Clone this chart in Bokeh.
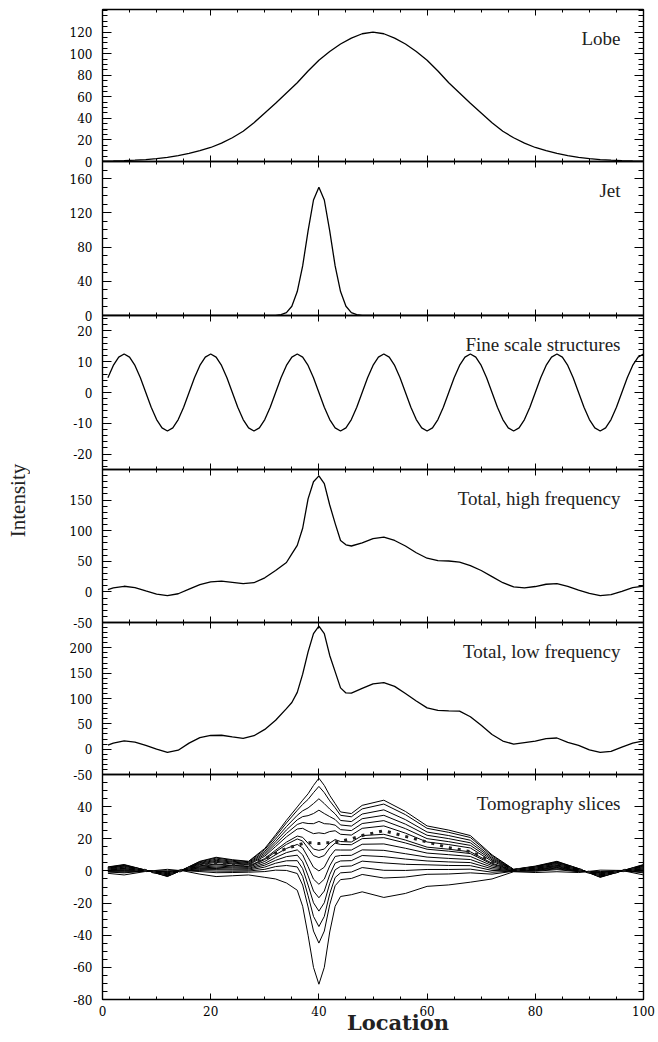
import numpy as np
from bokeh.plotting import figure
from bokeh.layouts import column, row
from bokeh.models import LinearAxis, FixedTicker, Range1d, Label
from bokeh.embed import file_html
from bokeh.resources import INLINE

# ---------------- data ----------------
X_TICKS = [0, 20, 40, 60, 80, 100]
X_MINOR = list(range(0, 101, 5))

X_LOBE = list(range(0, 101, 2))
LOBE = [0.3, 0.5, 0.8, 1.2, 1.8, 2.6, 3.8, 5.4, 7.5, 10.0, 13.0, 17.0, 22.0, 28.0, 36.0,
        45.0, 54.0, 63.5, 73.0, 84.0, 94.0, 102.0, 109.0, 114.5, 118.5, 120.0, 118.5, 114.5,
        109.0, 102.0, 94.0, 84.0, 73.0, 63.5, 54.0, 45.0, 36.0, 28.0, 22.0, 17.0, 13.0, 10.0,
        7.5, 5.4, 3.8, 2.6, 1.8, 1.2, 0.8, 0.5, 0.3]

X_JET = [0, 30, 31, 32, 33, 34, 35, 36, 37, 38, 39, 40, 41, 42, 43, 44, 45, 46, 47, 48, 49, 50, 100]
JET = [0, 0, 0, 0.2, 1.0, 3.4, 10.8, 28, 58, 99, 135, 150, 135, 99, 58, 28, 10.8, 3.4, 1.0, 0.2, 0, 0, 0]

X_FINE = list(range(1, 101))
FINE = [4.8, 8.8, 11.5,
        12.5, 11.5, 8.8, 4.8, 0, -4.8, -8.8, -11.5, -12.5, -11.5, -8.8, -4.8, 0, 4.8, 8.8, 11.5,
        12.5, 11.5, 8.8, 4.8, 0, -4.8, -8.8, -11.5, -12.5, -11.5, -8.8, -4.8, 0, 4.8, 8.8, 11.5,
        12.5, 11.5, 8.8, 4.8, 0, -4.8, -8.8, -11.5, -12.5, -11.5, -8.8, -4.8, 0, 4.8, 8.8, 11.5,
        12.5, 11.5, 8.8, 4.8, 0, -4.8, -8.8, -11.5, -12.5, -11.5, -8.8, -4.8, 0, 4.8, 8.8, 11.5,
        12.5, 11.5, 8.8, 4.8, 0, -4.8, -8.8, -11.5, -12.5, -11.5, -8.8, -4.8, 0, 4.8, 8.8, 11.5,
        12.5, 11.5, 8.8, 4.8, 0, -4.8, -8.8, -11.5, -12.5, -11.5, -8.8, -4.8, 0, 4.8, 8.8, 11.5,
        12.5]

X_TOT = [1, 2, 4, 6, 8, 10, 12, 14, 16, 18, 20, 22, 24, 26, 28, 30, 32, 34, 35, 36, 37, 38, 39,
         40, 41, 42, 43, 44, 45, 46, 48, 50, 52, 54, 56, 58, 60, 62, 64, 66, 68, 70, 72, 74, 76,
         78, 80, 82, 84, 86, 88, 90, 92, 94, 96, 98, 100]
HIGH = [3.8, 6.5, 9.2, 7.0, 1.5, -3.5, -6.0, -3.0, 4.5, 12.0, 16.5, 17.5, 15.5, 13.5, 15.0, 23.0,
        35.0, 48.0, 62.0, 76.0, 104.0, 152.0, 180.0, 189.5, 177.0, 142.0, 112.0, 84.0, 77.0, 75.0,
        80.0, 87.0, 89.5, 84.0, 75.0, 64.0, 55.0, 51.0, 50.5, 48.5, 43.0, 35.0, 25.0, 15.0, 8.2,
        6.6, 8.8, 12.5, 13.5, 9.0, 3.0, -2.5, -6.0, -4.5, 1.0, 7.0, 9.5]
LOW = [7.8, 12.0, 16.2, 14.0, 7.5, 0.0, -6.5, -2.0, 12.0, 22.8, 27.0, 27.5, 24.2, 21.5, 26.5, 39.0,
       57.0, 80.0, 92.0, 112.0, 148.0, 192.0, 228.0, 243.0, 228.0, 185.0, 153.0, 121.0, 111.0,
       110.5, 120.0, 129.0, 131.5, 124.0, 110.0, 95.0, 81.5, 76.5, 75.5, 75.0, 64.0, 47.0, 29.0,
       16.0, 10.0, 13.0, 16.0, 21.0, 22.0, 13.5, 7.5, -1.5, -6.5, -4.5, 4.0, 12.0, 16.5]

X_TOMO = [1, 4, 8, 12, 15, 18, 21, 24, 27, 30, 32, 34, 36, 37, 38, 39, 40, 41, 42, 43, 44, 46,
          48, 52, 56, 60, 64, 68, 72, 76, 80, 84, 88, 92, 96, 100]
SLICE_01 = [2.5, 4.0, 0.5, -3.5, 1.0, 6.0, 8.5, 7.0, 6.0, 14.0, 22.5, 31.5, 39.8, 44.0, 48.0, 53.2, 57.7, 53.2, 47.0, 41.9, 36.7, 35.7, 40.8, 44.0, 37.0, 28.0, 25.4, 22.0, 10.0, 1.0, 3.0, 6.0, 1.5, -4.0, 0.0, 4.0]
SLICE_02 = [2.3, 3.7, 0.5, -3.3, 1.0, 5.7, 8.0, 6.6, 5.7, 13.3, 21.4, 29.9, 37.7, 41.4, 44.5, 48.7, 52.6, 48.7, 43.6, 39.3, 34.6, 33.7, 38.6, 41.6, 35.0, 26.5, 24.0, 20.8, 9.4, 0.9, 2.8, 5.7, 1.4, -3.8, 0.0, 3.7]
SLICE_03 = [2.1, 3.4, 0.4, -3.1, 0.9, 5.2, 7.3, 6.0, 5.2, 12.2, 19.8, 27.6, 34.6, 37.4, 39.2, 41.9, 44.9, 41.9, 38.5, 35.5, 31.4, 30.7, 35.4, 38.0, 31.9, 24.2, 22.0, 19.1, 8.5, 0.9, 2.6, 5.4, 1.3, -3.6, 0.0, 3.4]
SLICE_04 = [1.9, 3.0, 0.4, -2.8, 0.8, 4.8, 6.6, 5.5, 4.7, 11.2, 18.2, 25.5, 31.8, 33.8, 34.4, 35.7, 37.8, 35.7, 33.8, 32.0, 28.6, 27.9, 32.5, 34.6, 29.1, 22.2, 20.1, 17.5, 7.7, 0.8, 2.4, 5.0, 1.1, -3.3, 0.0, 3.0]
SLICE_05 = [1.7, 2.6, 0.3, -2.6, 0.8, 4.3, 6.0, 4.9, 4.2, 10.2, 16.7, 23.3, 28.9, 30.1, 29.5, 29.4, 30.8, 29.4, 29.2, 28.5, 25.7, 25.1, 29.5, 31.3, 26.3, 20.1, 18.2, 15.9, 6.9, 0.7, 2.2, 4.6, 1.0, -3.1, 0.1, 2.6]
SLICE_06 = [1.4, 2.3, 0.3, -2.3, 0.7, 3.9, 5.3, 4.4, 3.8, 9.2, 15.2, 21.2, 26.1, 26.5, 24.7, 23.2, 23.7, 23.2, 24.5, 25.0, 22.8, 22.3, 26.5, 28.0, 23.5, 18.0, 16.4, 14.3, 6.0, 0.6, 1.9, 4.3, 0.8, -2.8, 0.1, 2.3]
SLICE_07 = [1.1, 1.7, 0.2, -1.9, 0.7, 3.2, 4.3, 3.5, 3.0, 7.7, 12.9, 17.9, 21.7, 20.9, 17.2, 13.6, 12.8, 13.6, 17.3, 19.5, 18.3, 18.0, 22.0, 22.8, 19.2, 14.8, 13.5, 11.9, 4.8, 0.5, 1.6, 3.7, 0.6, -2.4, 0.1, 1.7]
SLICE_08 = [1.0, 1.5, 0.2, -1.8, 0.6, 2.9, 3.9, 3.2, 2.7, 7.1, 11.9, 16.5, 19.9, 18.6, 14.1, 9.6, 8.3, 9.6, 14.3, 17.3, 16.5, 16.3, 20.1, 20.7, 17.4, 13.5, 12.3, 10.8, 4.2, 0.4, 1.5, 3.5, 0.5, -2.3, 0.1, 1.5]
SLICE_09 = [0.7, 1.1, 0.1, -1.5, 0.6, 2.4, 3.1, 2.5, 2.2, 5.9, 10.1, 14.0, 16.5, 14.3, 8.4, 2.3, 0.0, 2.3, 8.8, 13.1, 13.0, 13.0, 16.6, 16.8, 14.1, 11.1, 10.1, 9.0, 3.3, 0.3, 1.2, 3.1, 0.4, -2.0, 0.1, 1.1]
SLICE_10 = [0.4, 0.7, 0.1, -1.2, 0.5, 1.9, 2.3, 1.9, 1.6, 4.7, 8.3, 11.4, 13.1, 10.0, 2.7, -5.1, -8.3, -5.1, 3.2, 9.0, 9.6, 9.7, 13.1, 12.8, 10.7, 8.6, 7.8, 7.1, 2.3, 0.2, 0.9, 2.7, 0.2, -1.7, 0.2, 0.7]
SLICE_11 = [0.2, 0.2, 0.0, -0.9, 0.4, 1.4, 1.5, 1.2, 1.1, 3.6, 6.6, 8.9, 9.8, 5.7, -3.0, -12.5, -16.7, -12.5, -2.3, 4.8, 6.2, 6.4, 9.6, 8.9, 7.4, 6.2, 5.6, 5.2, 1.3, 0.1, 0.7, 2.2, 0.1, -1.4, 0.2, 0.2]
SLICE_12 = [-0.1, -0.2, 0.0, -0.6, 0.4, 0.8, 0.8, 0.6, 0.5, 2.4, 4.8, 6.3, 6.4, 1.4, -8.8, -19.8, -25.0, -19.8, -7.8, 0.7, 2.8, 3.1, 6.1, 5.0, 4.1, 3.8, 3.4, 3.3, 0.3, 0.0, 0.4, 1.8, -0.1, -1.1, 0.2, -0.2]
SLICE_13 = [-0.4, -0.7, -0.1, -0.3, 0.3, 0.2, -0.1, -0.2, -0.1, 1.0, 2.7, 3.4, 2.5, -3.5, -15.4, -28.3, -34.6, -28.3, -14.2, -4.1, -1.2, -0.7, 2.1, 0.4, 0.3, 0.9, 0.9, 1.1, -0.8, -0.1, 0.1, 1.3, -0.3, -0.8, 0.2, -0.7]
SLICE_14 = [-0.7, -1.2, -0.1, 0.1, 0.2, -0.4, -1.1, -1.0, -0.8, -0.4, 0.5, 0.3, -1.6, -8.8, -22.4, -37.4, -44.9, -37.4, -21.0, -9.2, -5.4, -4.7, -2.2, -4.4, -3.8, -2.1, -1.9, -1.2, -2.0, -0.2, -0.2, 0.8, -0.5, -0.4, 0.2, -1.2]
SLICE_15 = [-1.5, -2.5, -0.3, 1.0, 0.0, -2.0, -3.5, -3.0, -2.5, -4.0, -5.0, -7.5, -12.0, -22.0, -40.0, -60.0, -70.5, -60.0, -38.0, -22.0, -15.9, -14.8, -13.0, -16.5, -14.0, -9.6, -8.7, -7.0, -5.0, -0.5, -1.0, -0.5, -1.0, 0.5, 0.3, -2.5]
SLICE_DOTTED = [1.2, 1.9, 0.2, -2.1, 0.7, 3.4, 4.7, 3.8, 3.3, 7.5, 11.0, 14.0, 16.0, 17.0, 17.5, 17.5, 17.0, 17.5, 17.5, 18.0, 18.5, 20.0, 22.0, 25.0, 21.5, 18.0, 14.5, 12.0, 6.0, 0.6, 1.8, 4.0, 0.8, -2.6, 0.1, 1.9]
SLICES = [SLICE_01, SLICE_02, SLICE_03, SLICE_04, SLICE_05, SLICE_06, SLICE_07, SLICE_08,
          SLICE_09, SLICE_10, SLICE_11, SLICE_12, SLICE_13, SLICE_14, SLICE_15]

TITLES = ["Lobe", "Jet", "Fine scale structures", "Total, high frequency",
          "Total, low frequency", "Tomography slices"]
Y_RANGES = [(0, 141), (0, 180), (-25, 25), (-50, 200), (-50, 250), (-80, 60)]
Y_MAJOR = [[0, 20, 40, 60, 80, 100, 120],
           [0, 40, 80, 120, 160],
           [-20, -10, 0, 10, 20],
           [-50, 0, 50, 100, 150],
           [-50, 0, 50, 100, 150, 200],
           [-80, -60, -40, -20, 0, 20, 40]]
Y_MINOR_STEP = [5, 10, 2, 10, 10, 5]

# ---------------- layout / style ----------------
TICK_FONT = "DejaVu Serif"
TEXT_FONT = "Liberation Serif"
STRIP_W = 30            # narrow strip on the left that carries the y title
FRAME_W = 541
FRAME_H = [152, 154, 154, 153, 152, 225]
BORDER_T = [9, 12, 12, 16, 12, 12]
BORDER_B = [12, 12, 12, 12, 12, 24]
BORDER_L = 102 - STRIP_W
BORDER_R = 15
PANEL_W = BORDER_L + FRAME_W + BORDER_R


def make_axis(ticks, minor, tick_in, minor_in, labels, standoff=10):
    ax = LinearAxis(ticker=FixedTicker(ticks=ticks, minor_ticks=minor),
                    major_tick_in=tick_in, major_tick_out=0,
                    minor_tick_in=minor_in, minor_tick_out=0,
                    axis_line_width=1.4, axis_line_color="black",
                    major_tick_line_width=1, minor_tick_line_width=1)
    if labels:
        ax.major_label_text_font = TICK_FONT
        ax.major_label_text_font_size = "12px"
        ax.major_label_text_color = "black"
        ax.major_label_standoff = standoff
        neg = {t: "-" + str(abs(t)) for t in ticks if t < 0}
        if neg:
            ax.major_label_overrides = neg
    else:
        ax.major_label_text_font_size = "0px"
        ax.major_label_text_color = None
        ax.major_label_standoff = 0
    return ax


panels = []
for i in range(6):
    ylo, yhi = Y_RANGES[i]
    h = FRAME_H[i]
    margin_top = 0 if i == 0 else -(BORDER_B[i - 1] + BORDER_T[i])
    p = figure(frame_width=FRAME_W, frame_height=h,
               x_range=Range1d(0, 100), y_range=Range1d(ylo, yhi),
               x_axis_location=None, y_axis_location=None,
               output_backend="svg", toolbar_location=None,
               min_border_left=BORDER_L, min_border_right=BORDER_R,
               min_border_top=BORDER_T[i], min_border_bottom=BORDER_B[i],
               background_fill_color=None, border_fill_color=None,
               outline_line_color="black", outline_line_width=1,
               margin=(margin_top, 0, 0, 0))
    p.grid.visible = False
    step = Y_MINOR_STEP[i]
    yminor = [v for v in range(int(np.ceil(ylo / step)) * step, yhi + 1, step)]
    p.add_layout(make_axis(Y_MAJOR[i], yminor, 9, 5, True), "left")
    p.add_layout(make_axis(Y_MAJOR[i], yminor, 9, 5, False), "right")
    p.add_layout(make_axis(X_TICKS, X_MINOR, 6, 3, False), "above")
    p.add_layout(make_axis(X_TICKS, X_MINOR, 6, 3, i == 5, standoff=6), "below")
    scale = h / (yhi - ylo)
    p.add_layout(Label(x=100 - 23 / (FRAME_W / 100), y=yhi - 29 / scale, text=TITLES[i],
                       text_align="right", text_baseline="alphabetic",
                       text_font=TEXT_FONT, text_font_size="19px", text_color="#222222"))
    panels.append(p)

LW = 1.3
panels[0].line(X_LOBE, LOBE, line_color="black", line_width=LW)
panels[1].line(X_JET, JET, line_color="black", line_width=LW)
panels[2].line(X_FINE, FINE, line_color="black", line_width=LW)
panels[3].line(X_TOT, HIGH, line_color="black", line_width=LW)
panels[4].line(X_TOT, LOW, line_color="black", line_width=LW)
for s in SLICES:
    panels[5].line(X_TOMO, s, line_color="black", line_width=1.0)
panels[5].line(X_TOMO, SLICE_DOTTED, line_color="#222222", line_width=3, line_dash="3 6")


def text_strip(w, h, margin_top=0):
    """Blank figure whose ranges are in pixels (y downwards), used to hold a title text."""
    s = figure(width=w, height=h, x_range=Range1d(0, w), y_range=Range1d(h, 0),
               x_axis_location=None, y_axis_location=None,
               output_backend="svg", toolbar_location=None,
               min_border=0, outline_line_color=None,
               background_fill_color=None, border_fill_color=None,
               margin=(margin_top, 0, 0, 0))
    s.grid.visible = False
    return s


# x-axis title strip, overlapping the bottom border of the last panel
BOTTOM_H = 32
bottom = text_strip(PANEL_W, BOTTOM_H, margin_top=-13)
bottom.add_layout(Label(x=343, y=12, text="Location",
                        text_align="center", text_baseline="alphabetic",
                        text_font=TICK_FONT, text_font_size="21px",
                        text_font_style="bold", text_color="#222222"))

# y-axis title strip on the left
left = text_strip(STRIP_W, 1000)
left.add_layout(Label(x=17, y=500, text="Intensity", angle=np.pi / 2,
                      text_align="center", text_baseline="middle",
                      text_font=TEXT_FONT, text_font_size="21px", text_color="#222222"))

layout = row(left, column(*panels, bottom, spacing=0), spacing=0)
open("out.html", "w").write(file_html(layout, INLINE))
